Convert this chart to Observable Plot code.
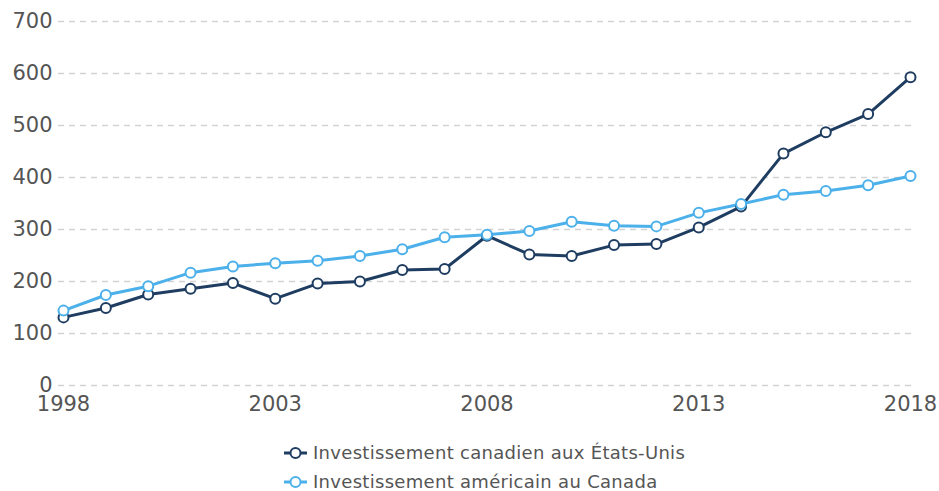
<!DOCTYPE html>
<html>
<head>
<meta charset="utf-8">
<script src="https://cdn.jsdelivr.net/npm/d3@7"></script>
<script src="https://cdn.jsdelivr.net/npm/@observablehq/plot@0.6"></script>
<style>
  body { margin: 0; background: #fff; font-family: "DejaVu Sans", Verdana, sans-serif; }
  #wrap { position: relative; width: 939px; height: 491px; }
  #legend { position: absolute; left: 284px; top: 438px; font-size: 18px; letter-spacing: 0.3px; color: #555; }
  #legend .item { display: flex; align-items: center; height: 29px; }
  #legend svg { margin-right: 5px; }
</style>
</head>
<body>
<div id="wrap">
  <div id="chart"></div>
  <div id="legend"></div>
</div>
<script>
const years = [1998,1999,2000,2001,2002,2003,2004,2005,2006,2007,2008,2009,2010,2011,2012,2013,2014,2015,2016,2017,2018];
const canadaInUS = [131,149,175,186,197,167,196,200,222,224,288,252,249,270,272,304,344,446,487,522,593];
const usInCanada = [144,174,191,217,229,235,240,249,262,285,290,297,315,307,306,332,349,367,374,385,403];
const seriesNames = ["Investissement canadien aux États-Unis", "Investissement américain au Canada"];
const seriesColors = ["#1f3d61", "#4cb0ea"];
const yTicks = [0,100,200,300,400,500,600,700];
const xTicks = [1998,2003,2008,2013,2018];

const data = [];
years.forEach((y, i) => {
  data.push({year: y, value: canadaInUS[i], series: seriesNames[0]});
  data.push({year: y, value: usInCanada[i], series: seriesNames[1]});
});

const chart = Plot.plot({
  width: 939,
  height: 420,
  marginTop: 21,
  marginBottom: 35,
  marginLeft: 63,
  marginRight: 29,
  style: {fontFamily: "DejaVu Sans, Verdana, sans-serif", color: "#555", background: "#fff"},
  x: {domain: [1998, 2018], ticks: xTicks, tickFormat: d => String(d), tickSize: 0, label: null},
  y: {domain: [0, 700], ticks: yTicks, tickSize: 0, label: null},
  color: {domain: seriesNames, range: seriesColors},
  marks: [
    Plot.ruleY(yTicks, {stroke: "#d3d3d3", strokeWidth: 1.5, strokeDasharray: "6,5", insetLeft: -5, insetRight: -5}),
    Plot.axisY({ticks: yTicks, tickSize: 0, tickPadding: 11, fontSize: 21, fill: "#555", label: null}),
    Plot.axisX({ticks: xTicks, tickSize: 0, tickPadding: 11, fontSize: 21, fill: "#555", label: null, tickFormat: d => String(d)}),
    Plot.line(data, {x: "year", y: "value", stroke: "series", z: "series", strokeWidth: 3}),
    Plot.dot(data, {x: "year", y: "value", stroke: "series", fill: "#fff", r: 5, strokeWidth: 2})
  ]
});
document.getElementById("chart").appendChild(chart);

const legend = document.getElementById("legend");
seriesNames.forEach((name, i) => {
  const item = document.createElement("div");
  item.className = "item";
  item.innerHTML = `<svg width="24" height="14"><line x1="0" y1="7" x2="23" y2="7" stroke="${seriesColors[i]}" stroke-width="3"/><circle cx="11.5" cy="7" r="5" fill="#fff" stroke="${seriesColors[i]}" stroke-width="2"/></svg><span>${name}</span>`;
  legend.appendChild(item);
});
</script>
</body>
</html>
